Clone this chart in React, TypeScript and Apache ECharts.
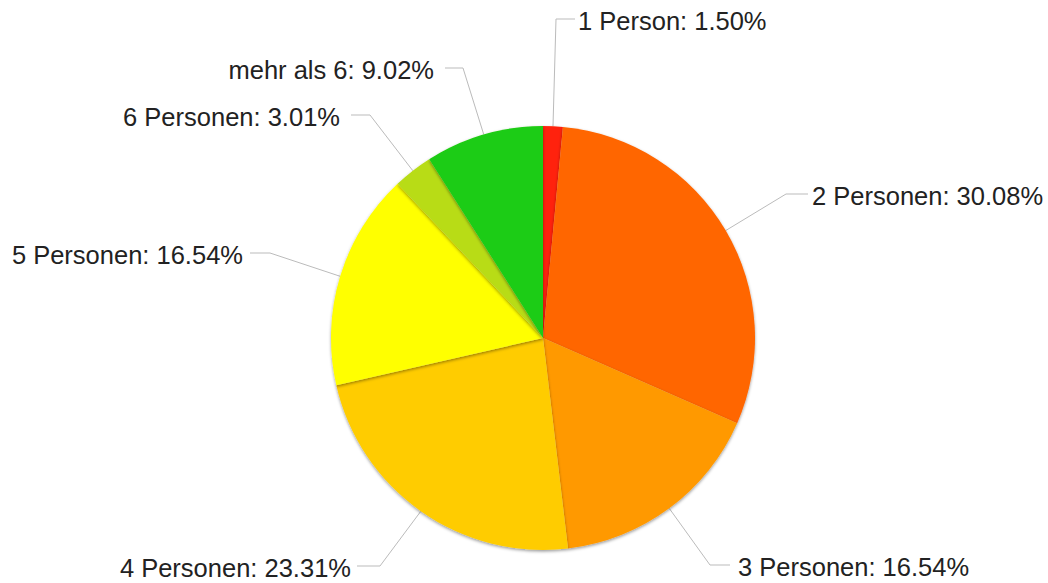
import React, { useEffect, useRef } from "react";
import * as echarts from "echarts";

const categories = [
  "1 Person",
  "2 Personen",
  "3 Personen",
  "4 Personen",
  "5 Personen",
  "6 Personen",
  "mehr als 6",
];
const shares = [1.5, 30.08, 16.54, 23.31, 16.54, 3.01, 9.02];
const colors = ["#FF2208", "#FF6600", "#FF9900", "#FFCC00", "#FFFF00", "#B8DC12", "#1FCC12"];

// label placement (style only): [labelX, labelY, align, bendX, endX]
const labelPlacement: [number, number, "left" | "right", number, number][] = [
  [578, 21, "left", 556, 575],
  [812, 196, "left", 786, 808],
  [738, 567, "left", 710, 730],
  [351, 568, "right", 380, 357],
  [243, 255, "right", 270, 250],
  [340, 117, "right", 370, 351],
  [434, 70, "right", 463, 445],
];

export default function App() {
  const ref = useRef<HTMLDivElement>(null);
  useEffect(() => {
    document.body.style.margin = "0";
    const chart = echarts.init(ref.current!, null, { renderer: "svg" });
    chart.setOption({
      animation: false,
      backgroundColor: "#ffffff",
      series: [
        {
          type: "pie",
          center: [543, 338],
          radius: 212,
          startAngle: 90,
          clockwise: true,
          avoidLabelOverlap: false,
          data: categories.map((name, i) => ({
            name,
            value: shares[i],
            itemStyle: { color: colors[i] },
          })),
          itemStyle: {
            borderWidth: 0,
            shadowColor: "rgba(0,0,0,0.4)",
            shadowBlur: 3,
            shadowOffsetY: 1.5,
          },
          label: {
            show: true,
            position: "outside",
            formatter: (p: any) => `${p.name}: ${Number(p.value).toFixed(2)}%`,
            fontFamily: "Liberation Sans, Arial, sans-serif",
            fontSize: 25.5,
            color: "#222222",
          },
          labelLine: {
            show: true,
            lineStyle: { color: "#bbbbbb", width: 1 },
          },
          labelLayout: (params: any) => {
            const [lx, ly, align, bx, ex] = labelPlacement[params.dataIndex];
            const start = params.labelLinePoints ? params.labelLinePoints[0] : [bx, ly];
            return {
              x: lx,
              y: ly,
              align,
              verticalAlign: "middle",
              labelLinePoints: [start, [bx, ly - 2], [ex, ly - 2]],
            };
          },
          emphasis: { disabled: true },
        },
      ],
    });
    return () => chart.dispose();
  }, []);
  return <div ref={ref} style={{ width: 1048, height: 583 }} />;
}
